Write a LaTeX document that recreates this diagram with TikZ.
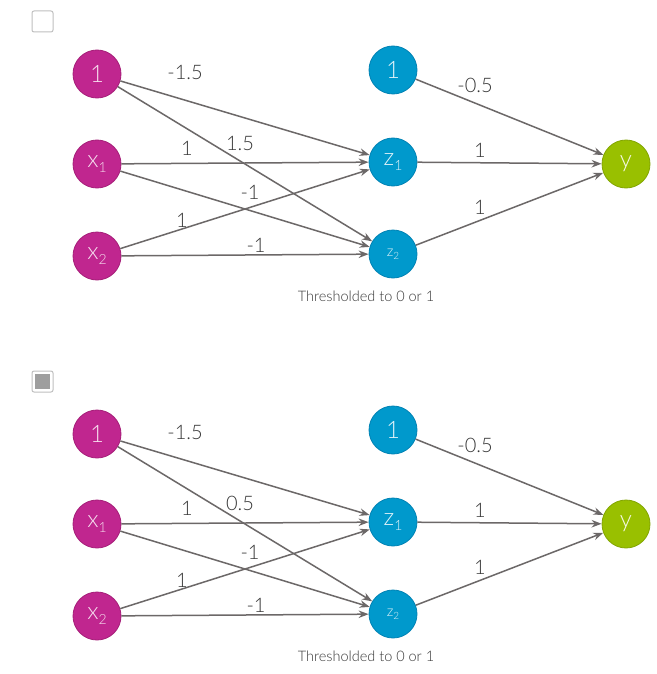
\documentclass[tikz,border=0pt]{standalone}
\usepackage{fontspec}
\setmainfont{Lato}
\newfontfamily\thinfont{Lato Light}
\usetikzlibrary{arrows.meta}

\definecolor{magentanode}{RGB}{192,38,143}
\definecolor{magentaline}{RGB}{165,30,120}
\definecolor{bluenode}{RGB}{0,153,204}
\definecolor{blueline}{RGB}{0,130,180}
\definecolor{greennode}{RGB}{153,192,0}
\definecolor{greenline}{RGB}{130,165,0}
\definecolor{edgegray}{RGB}{108,104,104}
\definecolor{labelgray}{RGB}{55,55,55}
\definecolor{tickfill}{RGB}{158,158,158}

\tikzset{
  neuron/.style={circle, minimum size=48pt, inner sep=0pt, line width=0.8pt,
    font=\thinfont\fontsize{24}{24}\selectfont},
  inputn/.style={neuron, fill=magentanode, draw=magentaline, text=white!85!magentanode},
  hiddenn/.style={neuron, fill=bluenode, draw=blueline, text=white!88!bluenode},
  outputn/.style={neuron, fill=greennode, draw=greenline, text=white!90!greennode},
  wire/.style={draw=edgegray, line width=1.5pt, -{Stealth[length=10pt,width=7.5pt]}},
  weight/.style={text=labelgray, font=\thinfont\fontsize{20}{20}\selectfont},
  caption/.style={text=labelgray, font=\thinfont\fontsize{14.5}{14.5}\selectfont},
  tickbox/.style={draw=gray!50, line width=1pt, rounded corners=2pt, fill=white,
    minimum size=21pt, inner sep=0pt},
  tickmark/.style={fill=tickfill, draw=none, minimum size=15.5pt, inner sep=0pt}
}

\newcommand{\lowsub}[2]{\raisebox{-0.4ex}{\fontsize{#2}{#2}\selectfont #1}}

% One network panel: #1 name prefix, #2 vertical offset, #3 weight from the bias to z2,
% #4 whether the tick box is filled (1) or empty (0)
\newcommand{\netpanel}[4]{%
  \begin{scope}[yshift=-#2pt]
    \node[tickbox] (#1box) at (42.5,21.5) {};
    \ifnum#4=1 \node[tickmark] (#1mark) at (#1box.center) {};\fi
    \node[inputn] (#1in) at (97,74) {1};
    \node[inputn] (#1xa) at (97,164) {x\lowsub{1}{14}};
    \node[inputn] (#1xb) at (97,256) {x\lowsub{2}{14}};
    \node[hiddenn] (#1bias) at (393,70) {1};
    \node[hiddenn] (#1za) at (393,162) {z\lowsub{1}{14}};
    \node[hiddenn, font=\thinfont\fontsize{15}{15}\selectfont] (#1zb) at (393,254) {z\lowsub{2}{10}};
    \node[outputn] (#1y) at (626,164) {y};
    \path[wire] (#1in) -- (#1za);
    \path[wire] (#1in) -- (#1zb);
    \path[wire] (#1xa) -- (#1za);
    \path[wire] (#1xa) -- (#1zb);
    \path[wire] (#1xb) -- (#1za);
    \path[wire] (#1xb) -- (#1zb);
    \path[wire] (#1bias) -- (#1y);
    \path[wire] (#1za) -- (#1y);
    \path[wire] (#1zb) -- (#1y);
    \node[weight] (#1wa) at (185,72) {-1.5};
    \node[weight] (#1wb) at (240,143) {#3};
    \node[weight] (#1wc) at (187,148) {1};
    \node[weight] (#1wd) at (250,192) {-1};
    \node[weight] (#1we) at (182,220) {1};
    \node[weight] (#1wf) at (256,245) {-1};
    \node[weight] (#1wg) at (475,85) {-0.5};
    \node[weight] (#1wh) at (480,150) {1};
    \node[weight] (#1wi) at (480,207) {1};
    \node[caption] (#1cap) at (366,296) {Thresholded to 0 or 1};
  \end{scope}}

\begin{document}
\begin{tikzpicture}[x=1pt,y=-1pt]
  \useasboundingbox[fill=white] (0,0) rectangle (656,674);
  \netpanel{p}{0}{1.5}{0}
  \netpanel{q}{360}{0.5}{1}
\end{tikzpicture}
\end{document}
